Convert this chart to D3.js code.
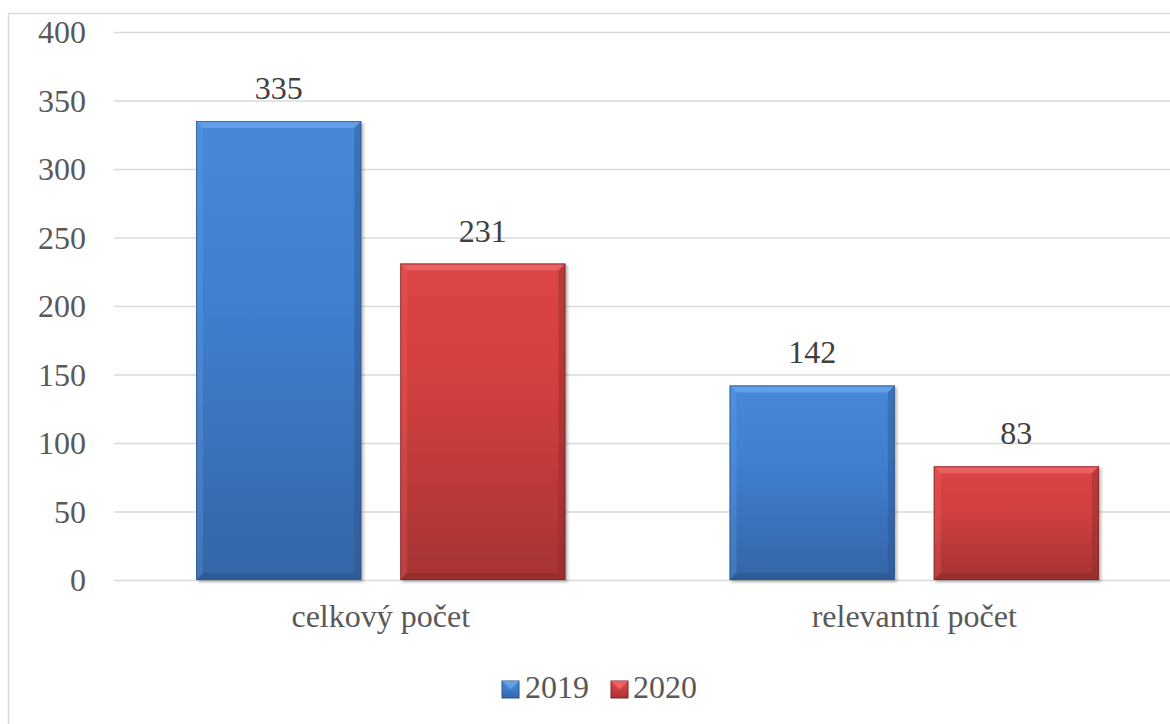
<!DOCTYPE html>
<html>
<head>
<meta charset="utf-8">
<script src="https://cdn.jsdelivr.net/npm/d3@7/dist/d3.min.js"></script>
<style>
  html, body { margin: 0; padding: 0; background: #fff; }
  svg { display: block; }
</style>
</head>
<body>
<svg id="chart" width="1170" height="724"></svg>
<script>
// Data
const categories = ["celkový počet", "relevantní počet"];
const seriesNames = ["2019", "2020"];
const values2019 = [335, 142];
const values2020 = [231, 83];
const yTicks = [0, 50, 100, 150, 200, 250, 300, 350, 400];

const seriesValues = [values2019, values2020];
const FONT = "'Liberation Serif', 'Times New Roman', Tinos, 'DejaVu Serif', serif";
const palette = {
  "2019": { top: "#4888d8", mid: "#3f7fcf", bot: "#3565a6", light: "#6aa6ee", dark: "#2a528a", edge: "#2c5285" },
  "2020": { top: "#dc4545", mid: "#d13f3f", bot: "#a63333", light: "#f06a6a", dark: "#8a2828", edge: "#7d2626" }
};

const svg = d3.select("#chart");
const plot = { left: 114, right: 1181, top: 32, bottom: 580 };

const defs = svg.append("defs");
seriesNames.forEach(s => {
  const c = palette[s];
  const g = defs.append("linearGradient").attr("id", "grad" + s)
    .attr("x1", 0).attr("y1", 0).attr("x2", 0).attr("y2", 1);
  g.append("stop").attr("offset", "0%").attr("stop-color", c.top);
  g.append("stop").attr("offset", "40%").attr("stop-color", c.mid);
  g.append("stop").attr("offset", "100%").attr("stop-color", c.bot);
});
const sh = defs.append("filter").attr("id", "shadow").attr("x", "-10%").attr("y", "-10%").attr("width", "130%").attr("height", "130%");
sh.append("feGaussianBlur").attr("in", "SourceAlpha").attr("stdDeviation", 1.5).attr("result", "b");
sh.append("feOffset").attr("in", "b").attr("dx", 1.5).attr("dy", 1.5).attr("result", "o");
sh.append("feComponentTransfer").attr("in", "o").attr("result", "o2")
  .append("feFuncA").attr("type", "linear").attr("slope", 0.3);
const m = sh.append("feMerge");
m.append("feMergeNode").attr("in", "o2");
m.append("feMergeNode").attr("in", "SourceGraphic");

// Outer frame (left and top edges visible)
svg.append("rect").attr("x", 8.5).attr("y", 13.5).attr("width", 1200).attr("height", 800)
  .attr("fill", "#fff").attr("stroke", "#d9d9d9").attr("stroke-width", 1.5);

// Scales
const y = d3.scaleLinear().domain([0, 400]).range([plot.bottom, plot.top]);
const x0 = d3.scaleBand().domain(categories).range([plot.left, plot.right]).padding(0);
const x1 = d3.scaleBand().domain(seriesNames).range([0, x0.bandwidth()])
  .paddingInner(0.191).paddingOuter(0.402);

// Gridlines
const grid = svg.append("g").attr("transform", `translate(${plot.left},0)`)
  .call(d3.axisLeft(y).tickValues(yTicks).tickSize(-(plot.right - plot.left)).tickFormat(""));
grid.select(".domain").remove();
grid.selectAll("line").attr("stroke", "#d9d9d9").attr("stroke-width", 1.5);

// Y tick labels
const yAxis = svg.append("g").attr("transform", `translate(${plot.left},0)`)
  .call(d3.axisLeft(y).tickValues(yTicks).tickSize(0).tickPadding(28));
yAxis.select(".domain").remove();
yAxis.attr("font-family", null).attr("font-size", null);
yAxis.selectAll("text").style("font-family", FONT).style("font-size", "32px")
  .attr("fill", "#595959").attr("dy", "0.33em");

// Bars with bevelled edges
const bev = 7;
const groups = svg.append("g").selectAll("g").data(categories).join("g")
  .attr("transform", d => `translate(${x0(d)},0)`);

const barData = (cat, ci) => seriesNames.map((s, si) => ({ cat, s, v: seriesValues[si][ci] }));

groups.each(function (cat, ci) {
  const g = d3.select(this);
  barData(cat, ci).forEach(d => {
    const c = palette[d.s];
    const bx = x1(d.s), bw = x1.bandwidth();
    const by = y(d.v), bh = y(0) - y(d.v);
    const bar = g.append("g").attr("filter", "url(#shadow)");
    bar.append("rect").attr("x", bx).attr("y", by).attr("width", bw).attr("height", bh)
      .attr("fill", `url(#grad${d.s})`);
    const x2 = bx + bw, y2 = by + bh;
    // top bevel
    bar.append("polygon").attr("points", [[bx, by], [x2, by], [x2 - bev, by + bev], [bx + bev, by + bev]].join(" "))
      .attr("fill", c.light).attr("opacity", 0.75);
    // left bevel
    bar.append("polygon").attr("points", [[bx, by], [bx + bev, by + bev], [bx + bev, y2 - bev], [bx, y2]].join(" "))
      .attr("fill", c.light).attr("opacity", 0.25);
    // right bevel
    bar.append("polygon").attr("points", [[x2, by], [x2, y2], [x2 - bev, y2 - bev], [x2 - bev, by + bev]].join(" "))
      .attr("fill", c.dark).attr("opacity", 0.4);
    // bottom bevel
    bar.append("polygon").attr("points", [[bx, y2], [bx + bev, y2 - bev], [x2 - bev, y2 - bev], [x2, y2]].join(" "))
      .attr("fill", c.dark).attr("opacity", 0.55);
    bar.append("rect").attr("x", bx + 0.5).attr("y", by + 0.5).attr("width", bw - 1).attr("height", bh - 1)
      .attr("fill", "none").attr("stroke", c.edge).attr("stroke-width", 1).attr("opacity", 0.7);
    // value label
    g.append("text").attr("x", bx + bw / 2).attr("y", by - 22)
      .attr("text-anchor", "middle").style("font-family", FONT).style("font-size", "32px")
      .attr("fill", "#404040")
      .text(d.v);
  });
});

// Category labels
svg.append("g").selectAll("text").data(categories).join("text")
  .attr("x", d => x0(d) + x0.bandwidth() / 2).attr("y", 627)
  .attr("text-anchor", "middle").style("font-family", FONT).style("font-size", "32px")
  .attr("fill", "#595959")
  .text(d => d);

// Legend
const legendItems = [
  { s: "2019", x: 502, tx: 525 },
  { s: "2020", x: 611, tx: 633 }
];
const lg = svg.append("g");
legendItems.forEach(it => {
  const c = palette[it.s];
  const sx = it.x, sy = 681, sz = 17;
  lg.append("rect").attr("x", sx).attr("y", sy).attr("width", sz).attr("height", sz)
    .attr("fill", `url(#grad${it.s})`).attr("stroke", c.edge).attr("stroke-width", 1);
  lg.append("polygon").attr("points", [[sx, sy], [sx + sz, sy], [sx + sz / 2, sy + sz / 2]].join(" "))
    .attr("fill", c.light).attr("opacity", 0.8);
  lg.append("text").attr("x", it.tx).attr("y", 698).style("font-family", FONT).style("font-size", "32px")
    .attr("fill", "#595959")
    .text(it.s);
});
</script>
</body>
</html>
